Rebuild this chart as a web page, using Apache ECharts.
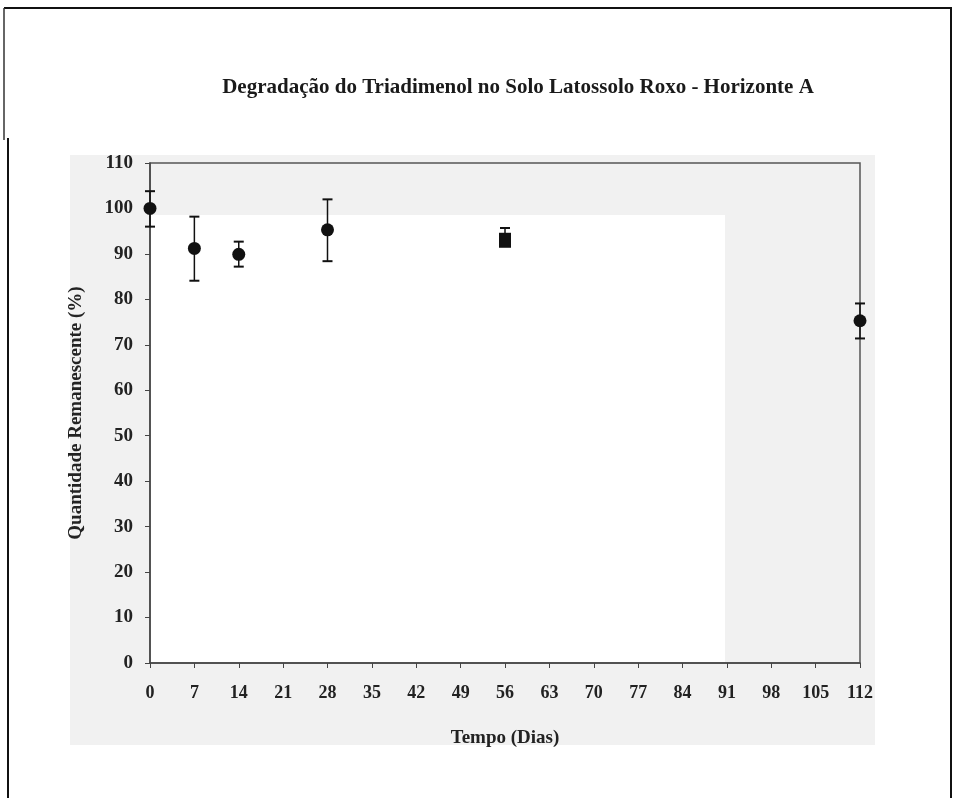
<!DOCTYPE html>
<html>
<head>
<meta charset="utf-8">
<script src="https://cdn.jsdelivr.net/npm/echarts@6/dist/echarts.min.js"></script>
<style>
  html, body { margin: 0; padding: 0; background: #fff; }
  #chart { width: 955px; height: 798px; }
</style>
</head>
<body>
<div id="chart"></div>
<script>
// Sampling days and remaining amount of triadimenol (%)
const days = [0, 7, 14, 28, 56, 112];
const remaining = [100, 91.2, 89.9, 95.3, 93.0, 75.3];
const errHigh = [103.8, 98.2, 92.7, 102.0, 95.7, 79.1];
const errLow = [96.0, 84.1, 87.2, 88.4, 92.0, 71.4];
const xTicks = [0, 7, 14, 21, 28, 35, 42, 49, 56, 63, 70, 77, 84, 91, 98, 105, 112];
const yTicks = [0, 10, 20, 30, 40, 50, 60, 70, 80, 90, 100, 110];

const serif = '"Liberation Serif", "DejaVu Serif", serif';

const chart = echarts.init(document.getElementById('chart'), null, { renderer: 'canvas' });

// day 56 was plotted with a square marker
const pointData = days.map((d, i) => ({
  value: [d, remaining[i]],
  symbol: d === 56 ? 'rect' : 'circle',
  symbolSize: d === 56 ? [12, 15] : 13
}));
const errData = days.map((d, i) => [d, errLow[i], errHigh[i]]);

chart.setOption({
  backgroundColor: '#ffffff',
  animation: false,
  title: {
    text: 'Degradação do Triadimenol no Solo Latossolo Roxo - Horizonte A',
    left: 513,
    top: 72,
    textAlign: 'center',
    textStyle: { fontFamily: serif, fontWeight: 'bold', fontSize: 21, color: '#1a1a1a' }
  },
  graphic: [
    // page frame
    { type: 'line', shape: { x1: 4, y1: 8, x2: 952, y2: 8 }, style: { stroke: '#111', lineWidth: 2 }, z: 0 },
    { type: 'line', shape: { x1: 4, y1: 8, x2: 4, y2: 140 }, style: { stroke: '#333', lineWidth: 1.5 }, z: 0 },
    { type: 'line', shape: { x1: 8, y1: 138, x2: 8, y2: 798 }, style: { stroke: '#111', lineWidth: 2 }, z: 0 },
    { type: 'line', shape: { x1: 951, y1: 8, x2: 951, y2: 798 }, style: { stroke: '#111', lineWidth: 2 }, z: 0 },
    // light grey paper around the chart
    { type: 'rect', shape: { x: 70, y: 155, width: 805, height: 590 }, style: { fill: '#f1f1f1' }, z: -10, silent: true },
    { type: 'rect', shape: { x: 150, y: 215, width: 575, height: 448 }, style: { fill: '#ffffff' }, z: -9, silent: true }
  ],
  grid: {
    left: 150,
    right: 95,
    top: 163,
    bottom: 135,
    show: true,
    borderColor: '#555',
    borderWidth: 1.5,
    backgroundColor: 'transparent'
  },
  xAxis: {
    type: 'value',
    min: 0,
    max: 112,
    interval: 7,
    name: 'Tempo (Dias)',
    nameLocation: 'middle',
    nameGap: 66,
    nameTextStyle: { fontFamily: serif, fontWeight: 'bold', fontSize: 19, color: '#222' },
    axisLine: { show: true, onZero: false, lineStyle: { color: '#444', width: 1.5 } },
    axisTick: { show: true, inside: false, length: 5, lineStyle: { color: '#444' } },
    splitLine: { show: false },
    axisLabel: {
      margin: 21,
      fontFamily: serif, fontWeight: 'bold', fontSize: 18, color: '#222',
      customValues: xTicks
    }
  },
  yAxis: {
    type: 'value',
    min: 0,
    max: 110,
    interval: 10,
    name: 'Quantidade Remanescente (%)',
    nameLocation: 'middle',
    nameGap: 64,
    nameTextStyle: { fontFamily: serif, fontWeight: 'bold', fontSize: 19, color: '#222' },
    axisLine: { show: true, lineStyle: { color: '#444', width: 1.5 } },
    axisTick: { show: true, inside: false, length: 5, lineStyle: { color: '#444' } },
    splitLine: { show: false },
    axisLabel: {
      margin: 17,
      fontFamily: serif, fontWeight: 'bold', fontSize: 19, color: '#222',
      customValues: yTicks
    }
  },
  series: [
    {
      type: 'custom',
      name: 'erro',
      data: errData,
      z: 2,
      renderItem: function (params, api) {
        const x = api.value(0);
        const lo = api.coord([x, api.value(1)]);
        const hi = api.coord([x, api.value(2)]);
        const cap = 5;
        const capStyle = { stroke: '#111', lineWidth: 2 };
        return {
          type: 'group',
          children: [
            { type: 'line', shape: { x1: lo[0], y1: lo[1], x2: hi[0], y2: hi[1] }, style: { stroke: '#111', lineWidth: 1.5 } },
            { type: 'line', shape: { x1: hi[0] - cap, y1: hi[1], x2: hi[0] + cap, y2: hi[1] }, style: capStyle },
            { type: 'line', shape: { x1: lo[0] - cap, y1: lo[1], x2: lo[0] + cap, y2: lo[1] }, style: capStyle }
          ]
        };
      }
    },
    {
      type: 'scatter',
      name: 'Triadimenol',
      data: pointData,
      z: 3,
      itemStyle: { color: '#111', opacity: 1 }
    }
  ]
});
</script>
</body>
</html>
